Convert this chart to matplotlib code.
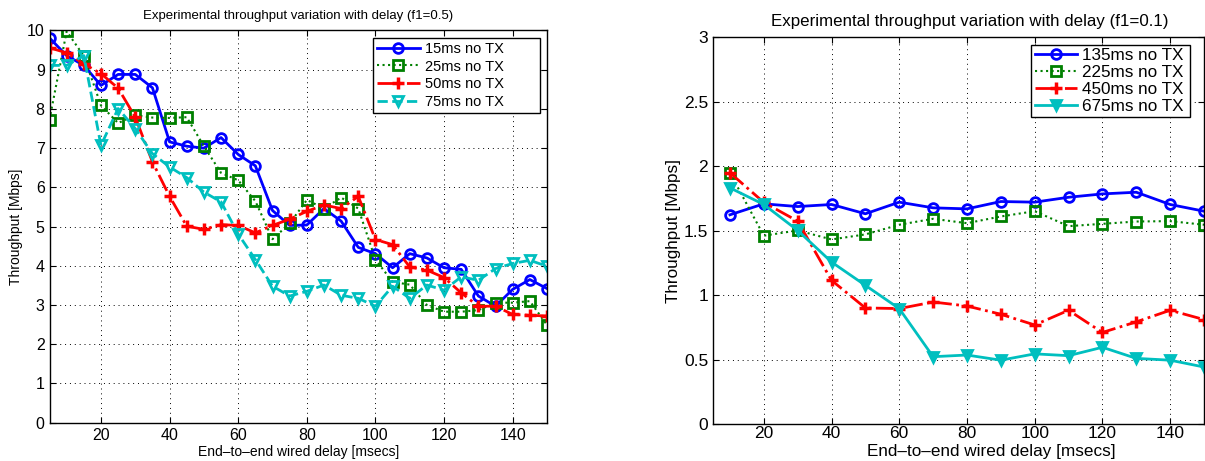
import matplotlib
matplotlib.use("Agg")
import matplotlib.pyplot as plt

plt.rcParams['font.family'] = ['Liberation Sans', 'DejaVu Sans']

# f1 = 0.5 runs, delay every 5 ms
delay_a = [5, 10, 15, 20, 25, 30, 35, 40, 45, 50, 55, 60, 65, 70, 75,
           80, 85, 90, 95, 100, 105, 110, 115, 120, 125, 130, 135, 140, 145, 150]
tp_15 = [9.81, 9.36, 9.11, 8.60, 8.88, 8.88, 8.54, 7.16, 7.05, 7.00, 7.27, 6.84, 6.55, 5.41, 5.03,
         5.04, 5.46, 5.14, 4.47, 4.31, 3.95, 4.31, 4.20, 3.95, 3.91, 3.23, 2.97, 3.40, 3.65, 3.42]
tp_25 = [7.73, 9.98, 9.35, 8.09, 7.64, 7.84, 7.78, 7.77, 7.79, 7.05, 6.37, 6.18, 5.65, 4.68, 5.08,
         5.68, 5.46, 5.74, 5.46, 4.16, 3.59, 3.52, 3.00, 2.83, 2.83, 2.87, 3.06, 3.06, 3.10, 2.49]
tp_50 = [9.56, 9.43, 9.15, 8.90, 8.53, 7.79, 6.65, 5.77, 5.01, 4.93, 5.05, 5.03, 4.84, 5.03, 5.19,
         5.39, 5.55, 5.46, 5.77, 4.67, 4.54, 3.97, 3.89, 3.70, 3.31, 2.97, 2.97, 2.76, 2.74, 2.72]
tp_75 = [9.11, 9.11, 9.36, 7.07, 8.01, 7.50, 6.86, 6.52, 6.25, 5.88, 5.63, 4.81, 4.16, 3.48, 3.23,
         3.35, 3.51, 3.25, 3.17, 2.97, 3.48, 3.17, 3.51, 3.38, 3.72, 3.63, 3.93, 4.06, 4.14, 3.99]

# f1 = 0.1 runs, delay every 10 ms
delay_b = [10, 20, 30, 40, 50, 60, 70, 80, 90, 100, 110, 120, 130, 140, 150]
tp_135 = [1.624, 1.709, 1.688, 1.704, 1.632, 1.722, 1.678, 1.670, 1.727, 1.722,
          1.760, 1.786, 1.799, 1.704, 1.652]
tp_225 = [1.949, 1.462, 1.503, 1.433, 1.472, 1.547, 1.593, 1.559, 1.611, 1.652,
          1.536, 1.554, 1.572, 1.575, 1.547]
tp_450 = [1.950, 1.720, 1.575, 1.116, 0.902, 0.897, 0.948, 0.917, 0.853, 0.770,
          0.884, 0.712, 0.794, 0.884, 0.812]
tp_675 = [1.833, 1.704, 1.503, 1.258, 1.077, 0.897, 0.524, 0.537, 0.497, 0.546,
          0.532, 0.597, 0.511, 0.497, 0.444]

W, H = 1205, 461
fig = plt.figure(figsize=(W / 100, H / 100), dpi=100)


def box(x0, y0, x1, y1):
    return [x0 / W, 1 - y1 / H, (x1 - x0) / W, (y1 - y0) / H]


def style(ax, size):
    ax.grid(True, color='black', linestyle=(0, (1, 4)), linewidth=0.7)
    ax.tick_params(direction='in', top=True, right=True, length=4, labelsize=size)
    for s in ax.spines.values():
        s.set_linewidth(1.0)


mk = dict(markersize=7, markeredgewidth=2, markerfacecolor='none')

ax1 = fig.add_axes(box(49.5, 30.5, 547, 422.7))
ax1.plot(delay_a, tp_15, 'b-', marker='o', lw=2, label='15ms no TX', **mk)
ax1.plot(delay_a, tp_25, color='green', ls=':', marker='s', lw=1.5, label='25ms no TX', **mk)
ax1.plot(delay_a, tp_50, 'r-.', marker='+', lw=2, label='50ms no TX',
         markersize=8, markeredgewidth=2.5)
ax1.plot(delay_a, tp_75, color='c', ls='--', marker='v', lw=2, label='75ms no TX', **mk)
ax1.set_xlim(5, 150)
ax1.set_ylim(0, 10)
ax1.set_xticks([20, 40, 60, 80, 100, 120, 140])
ax1.set_yticks(range(0, 11))
style(ax1, 11.5)
ax1.set_title('Experimental throughput variation with delay (f1=0.5)', fontsize=9.5, pad=8)
ax1.set_xlabel('End\u2013to\u2013end wired delay [msecs]', fontsize=10, labelpad=2)
ax1.set_ylabel('Throughput [Mbps]', fontsize=10, labelpad=3)
leg1 = ax1.legend(loc='upper left', bbox_to_anchor=(0.65, 0, 0.336, 0.982), mode='expand',
                  fontsize=10.5, fancybox=False, framealpha=1, edgecolor='black',
                  handlelength=2.9, borderaxespad=0, labelspacing=0.25,
                  borderpad=0.3, handletextpad=0.4)
leg1.get_frame().set_linewidth(1.0)

ax2 = fig.add_axes(box(713, 37.3, 1204, 424.3))
ax2.plot(delay_b, tp_135, 'b-', marker='o', lw=2, label='135ms no TX', **mk)
ax2.plot(delay_b, tp_225, color='green', ls=':', marker='s', lw=1.5, label='225ms no TX', **mk)
ax2.plot(delay_b, tp_450, 'r-.', marker='+', lw=2, label='450ms no TX',
         markersize=8, markeredgewidth=2.5)
ax2.plot(delay_b, tp_675, color='c', ls='-', marker='v', lw=2, label='675ms no TX',
         markersize=7, markeredgewidth=2)
ax2.set_xlim(5, 150)
ax2.set_ylim(0, 3)
ax2.set_xticks([20, 40, 60, 80, 100, 120, 140])
ax2.set_yticks([0, 0.5, 1, 1.5, 2, 2.5, 3])
ax2.set_yticklabels(['0', '0.5', '1', '1.5', '2', '2.5', '3'])
style(ax2, 12.5)
ax2.tick_params(axis='x', pad=1.5)
ax2.set_title('Experimental throughput variation with delay (f1=0.1)', fontsize=12.2,
              pad=8, x=0.523)
ax2.set_xlabel('End\u2013to\u2013end wired delay [msecs]', fontsize=12.3)
ax2.xaxis.set_label_coords(0.566, -0.052)
ax2.set_ylabel('Throughput [Mbps]', fontsize=12.3, labelpad=2)
leg2 = ax2.legend(loc='upper left', bbox_to_anchor=(0.648, 0, 0.324, 0.98), mode='expand',
                  fontsize=12.3, fancybox=False, framealpha=1, edgecolor='black',
                  handlelength=2.5, borderaxespad=0, labelspacing=0.1,
                  borderpad=0.2, handletextpad=0.3)
leg2.get_frame().set_linewidth(1.0)

fig.savefig('out.png', dpi=100)
